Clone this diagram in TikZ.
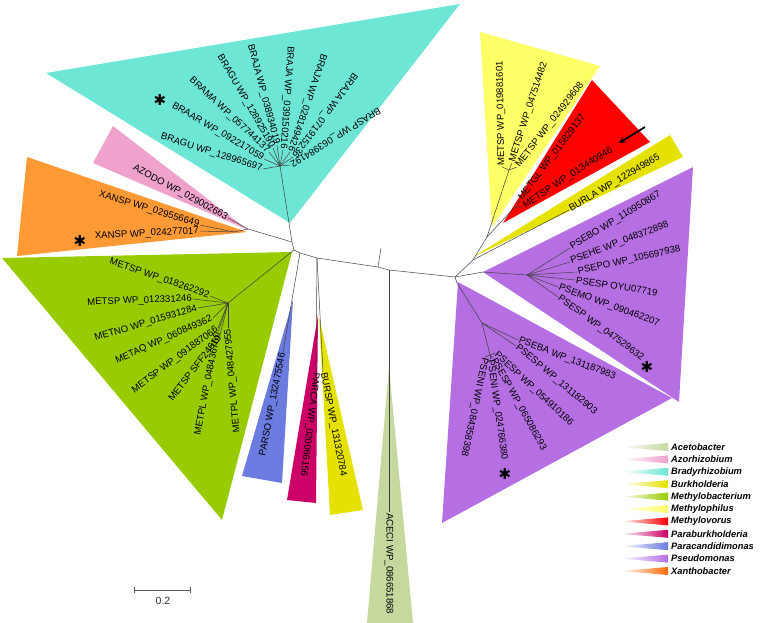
\documentclass[tikz,border=0pt]{standalone}
\usepackage{fontspec}
\usetikzlibrary{calc}
\setmainfont{Liberation Sans}
\newfontfamily\symfont{DejaVu Sans}
\definecolor{bradyc}{HTML}{6EE6D6}
\definecolor{azoc}{HTML}{EEA2CC}
\definecolor{xanc}{HTML}{FD9A36}
\definecolor{xanleg}{HTML}{FF6A08}
\definecolor{methyc}{HTML}{99CC00}
\definecolor{parac}{HTML}{6B7BE0}
\definecolor{parbc}{HTML}{CC0066}
\definecolor{burkc}{HTML}{E6E200}
\definecolor{acetc}{HTML}{C5D89E}
\definecolor{mphilc}{HTML}{FFFF66}
\definecolor{mvorc}{HTML}{FF0000}
\definecolor{psec}{HTML}{B56FE3}
\tikzset{
  leafl/.style={anchor=east, inner sep=1pt, font=\fontsize{9.6}{11}\selectfont},
  leafr/.style={anchor=west, inner sep=1pt, font=\fontsize{9.6}{11}\selectfont},
  branch/.style={draw=black!75, line width=0.5pt},
  starmark/.style={inner sep=0pt, font=\symfont\fontsize{15}{15}\selectfont},
  legtext/.style={anchor=west, inner sep=0pt, font=\fontsize{9.3}{11}\selectfont\bfseries\itshape},
}
\begin{document}
\begin{tikzpicture}[x=1pt, y=-1pt, >=stealth]
    \useasboundingbox (0,0) rectangle (760,623);

    % collapsed clades
    \fill[bradyc] (46,73) -- (460,4) -- (290,223) -- cycle;
    \fill[azoc] (113,126) -- (93,163) -- (248,230) -- cycle;
    \fill[xanc] (27,157) -- (17,256) -- (247,232) -- cycle;
    \fill[methyc] (2,258) -- (292,252) -- (222,520) -- cycle;
    \fill[parac] (293,300) -- (242,476) -- (282,483) -- cycle;
    \fill[parbc] (318,315) -- (287,500) -- (316,503) -- cycle;
    \fill[burkc] (319,317) -- (330,515) -- (363,510) -- cycle;
    \fill[acetc] (389,367) -- (367,623) -- (413,623) -- cycle;
    \fill[mphilc] (480,32) -- (600,66) -- (492,227) -- cycle;
    \fill[mvorc] (592,80) -- (650,142) -- (503,223) -- cycle;
    \fill[burkc] (670,135) -- (683,157) -- (473,257) -- cycle;
    \fill[psec] (483,272) -- (693,167) -- (679,402) -- cycle;
    \fill[psec] (458,282) -- (672,398) -- (442,523) -- cycle;

    % internal nodes
    \coordinate (l0) at (292,242);
    \coordinate (l1) at (294,250);
    \coordinate (tj) at (280,166);
    \coordinate (po) at (248,229);
    \coordinate (xj) at (234,232);
    \coordinate (gj) at (228,303);
    \coordinate (bj) at (300,253);
    \coordinate (p1) at (317,258);
    \coordinate (p2) at (378,267);
    \coordinate (p3) at (389,270);
    \coordinate (stub) at (381,248);
    \coordinate (r0) at (455,277);
    \coordinate (ra) at (473,260);
    \coordinate (rb) at (487,237);
    \coordinate (yj) at (509,170);
    \coordinate (rj) at (514,208);
    \coordinate (u0) at (483,272);
    \coordinate (uj) at (527,275);
    \coordinate (d0) at (457,283);
    \coordinate (d1) at (482,323);
    \coordinate (d2) at (490,355);

    % Bradyrhizobium
    \node[leafl, rotate=-17.6] (bragua) at (263,169) {BRAGU WP\_128965697};
    \node[leafl, rotate=-30.6] (braar) at (264,159) {BRAAR WP\_092217059};
    \node[leafl, rotate=-43] (brama) at (269,152) {BRAMA WP\_057744137};
    \node[leafl, rotate=-60] (bragub) at (273,148) {BRAGU WP\_128925190};
    \node[leafl, rotate=-75] (brajaa) at (277,145) {BRAJA WP\_038934019};
    \node[leafl, rotate=-94] (brajab) at (283,150) {BRAJA WP\_039150216};
    \node[leafl, rotate=-109] (brajac) at (290,152) {BRAJA WP\_028149426};
    \node[leafl, rotate=-127] (brajad) at (293,157) {BRAJA WP\_071915236};
    \node[leafl, rotate=-148] (brasp) at (290,165) {BRASP WP\_063984192};
    \node[starmark] (star1) at (160,100) {✱};

    % Azorhizobium, Xanthobacter
    \node[leafl, rotate=-28] (azodo) at (228,218) {AZODO WP\_029002663};
    \node[leafl, rotate=-17] (xanspa) at (200,225) {XANSP WP\_029556649};
    \node[leafl, rotate=3] (xanspb) at (200,231) {XANSP WP\_024277017};
    \node[starmark] (star2) at (80,241) {✱};

    % Methylobacterium
    \node[leafl, rotate=-19] (metspa) at (210,296) {METSP WP\_018262292};
    \node[leafl, rotate=2] (metspb) at (193,299) {METSP WP\_012331246};
    \node[leafl, rotate=16.5] (metno) at (198,308) {METNO WP\_015931284};
    \node[leafl, rotate=24] (metaq) at (213,318) {METAQ WP\_060849362};
    \node[leafl, rotate=36.6] (metspc) at (218,328) {METSP WP\_091887066};
    \node[leafl, rotate=52.6] (metspd) at (220,335) {METSP SFF24619};
    \node[leafl, rotate=79] (metpla) at (218,332) {METPL WP\_048436760};
    \node[leafl, rotate=95] (metplb) at (228,328) {METPL WP\_048427955};

    % bottom clades
    \node[leafl, rotate=79] (parso) at (283,352) {PARSO WP\_132475546};
    \node[leafr, rotate=-97] (parca) at (316,372) {PARCA WP\_020066156};
    \node[leafr, rotate=-79] (bursp) at (323,372) {BURSP WP\_131320784};
    \node[leafr, rotate=-90] (aceci) at (389,512) {ACECI WP\_086651868};

    % Methylophilus, Methylovorus, Burkholderia
    \node[leafr, rotate=91] (mphila) at (502,167) {METSP WP\_019881601};
    \node[leafr, rotate=72] (mphilb) at (512,163) {METSP WP\_047514482};
    \node[leafr, rotate=52] (mphilc) at (517,167) {METSP WP\_024929608};
    \node[leafr, rotate=53] (metgl) at (520,200) {METGL WP\_015829137};
    \node[leafr, rotate=33] (mvor) at (523,207) {METSP WP\_013440946};
    \node[leafr, rotate=30.5] (burla) at (569,210) {BURLA WP\_122949865};

    % Pseudomonas
    \node[leafr, rotate=31] (psebo) at (570,248) {PSEBO WP\_110950867};
    \node[leafr, rotate=21] (psehe) at (570,262) {PSEHE WP\_048372898};
    \node[leafr, rotate=12.5] (psepo) at (577,272) {PSEPO WP\_105697938};
    \node[leafr, rotate=-8.7] (psespa) at (575,280) {PSESP OYU07719};
    \node[leafr, rotate=-20] (psemo) at (558,287) {PSEMO WP\_090462207};
    \node[leafr, rotate=-36] (psespb) at (558,297) {PSESP WP\_047529632};
    \node[starmark] (star3) at (647,367) {✱};
    \node[leafr, rotate=-21] (pseba) at (518,340) {PSEBA WP\_131187983};
    \node[leafr, rotate=-40] (psespc) at (516,346) {PSESP WP\_131182903};
    \node[leafr, rotate=-43] (psespd) at (495,353) {PSESP WP\_054910186};
    \node[leafr, rotate=-61] (psespe) at (493,358) {PSESP WP\_065086293};
    \node[leafr, rotate=-82] (psenia) at (490,359) {PSENI WP\_024766380};
    \node[leafr, rotate=-102] (pseneb) at (485,357) {PSENI WP\_084358398};
    \node[starmark] (star4) at (505,474) {✱};

    % branches
    \draw[branch] (tj) -- (l0) -- (l1) -- (bj) -- (p1) -- (p2) -- (p3) -- (r0);
    \draw[branch] (l0) -- (po);
    \draw[branch] (l1) -- (gj);
    \draw[branch] (bj) -- (parso.east);
    \draw[branch] (p1) -- (parca.west);
    \draw[branch] (p1) -- (bursp.west);
    \draw[branch] (p2) -- (stub);
    \draw[branch] (p3) -- (aceci.west);
    \foreach \lf in {bragua,braar,brama,bragub,brajaa,brajab,brajac,brajad,brasp}
        \draw[branch] (tj) -- (\lf.east);
    \draw[branch] (po) -- (azodo.east);
    \draw[branch] (po) -- (xj) -- (xanspa.east);
    \draw[branch] (xj) -- (xanspb.east);
    \foreach \lf in {metspa,metspb,metno,metaq,metspc,metspd,metpla,metplb}
        \draw[branch] (gj) -- (\lf.east);
    \draw[branch] (r0) -- (ra) -- (burla.west);
    \draw[branch] (ra) -- (rb) -- (yj);
    \draw[branch] (rb) -- (rj);
    \foreach \lf in {mphila,mphilb,mphilc}
        \draw[branch] (yj) -- (\lf.west);
    \draw[branch] (rj) -- (metgl.west);
    \draw[branch] (rj) -- (mvor.west);
    \draw[branch] (r0) -- (u0) -- (uj);
    \foreach \lf in {psebo,psehe,psepo,psespa,psemo,psespb}
        \draw[branch] (uj) -- (\lf.west);
    \draw[branch] (r0) -- (d0) -- (d1) -- (d2);
    \draw[branch] (d1) -- (pseba.west);
    \draw[branch] (d1) -- (psespc.west);
    \foreach \lf in {psespd,psespe,psenia,pseneb}
        \draw[branch] (d2) -- (\lf.west);

    % arrow to Methylovorus
    \coordinate (arrs) at (645,127);
    \coordinate (arre) at (619,143);
    \draw[->, line width=1.8pt] (arrs) -- (arre);

    % legend
    \foreach \nm/\cl [count=\i from 0] in {Acetobacter/acetc, Azorhizobium/azoc,
        Bradyrhizobium/bradyc, Burkholderia/burkc, Methylobacterium/methyc,
        Methylophilus/mphilc, Methylovorus/mvorc, Paraburkholderia/parbc,
        Paracandidimonas/parac, Pseudomonas/psec, Xanthobacter/xanleg} {
        \shade[left color=white, right color=\cl]
            (620,447+12.4*\i) -- (668,443+12.4*\i) -- (668,451+12.4*\i) -- cycle;
        \node[legtext] (leg\i) at (671,447+12.4*\i) {\nm};
    }

    % scale bar
    \coordinate (sbl) at (134,590);
    \coordinate (sbr) at (190,590);
    \draw[black!65, line width=0.7pt] (sbl) -- (sbr);
    \draw[black!65, line width=0.7pt] ($(sbl)+(0,-3)$) -- ($(sbl)+(0,3)$);
    \draw[black!65, line width=0.7pt] ($(sbr)+(0,-3)$) -- ($(sbr)+(0,3)$);
    \node[font=\fontsize{10.5}{12}\selectfont, text=black!80] (sblab) at (163,601) {0.2};
\end{tikzpicture}
\end{document}
